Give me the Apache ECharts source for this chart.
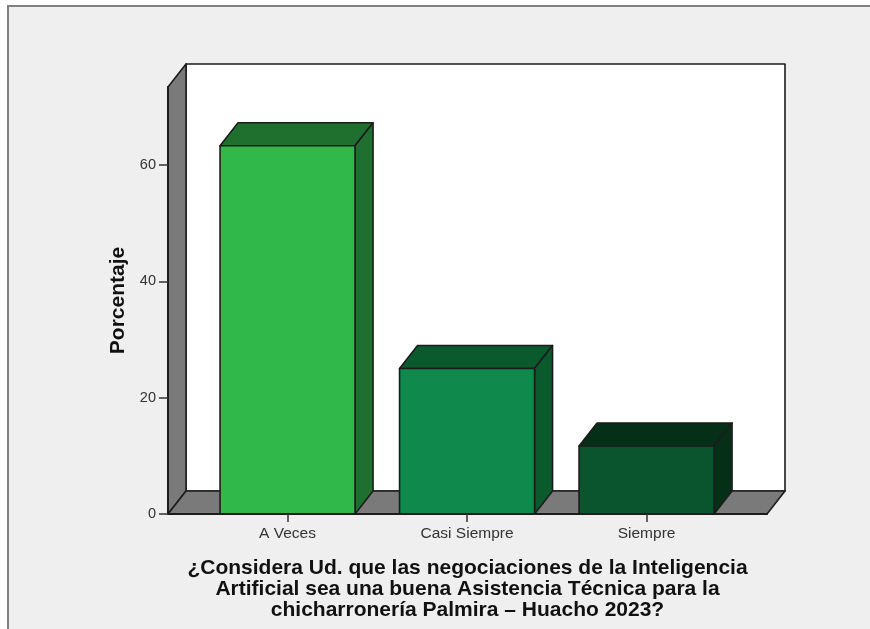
<!DOCTYPE html>
<html>
<head>
<meta charset="utf-8">
<script src="https://cdn.jsdelivr.net/npm/echarts@6/dist/echarts.min.js"></script>
<style>
html, body { margin: 0; padding: 0; background: #fff; }
#main { width: 870px; height: 629px; }
</style>
</head>
<body>
<div id="main"></div>
<script>
var categories = ['A Veces', 'Casi Siempre', 'Siempre'];
var percents = [63.3, 25.0, 11.7];
var yTicks = [0, 20, 40, 60];
var xTitle = '¿Considera Ud. que las negociaciones de la Inteligencia\nArtificial sea una buena Asistencia Técnica para la\nchicharronería Palmira – Huacho 2023?';
var yTitle = 'Porcentaje';

// cara frontal / cara lateral de cada barra
var frontColors = ['#30b84b', '#0f8a4c', '#0a552d'];
var sideColors = ['#1f702e', '#0a5a2e', '#052f17'];

var xMin = -0.666, xMax = 2.671, yMax = 73.4;
var barSize = 0.752;
var depthX = 18, depthY = 23; // profundidad del efecto 3D
var lineColor = '#1c1c1c';

function face(points, fill) {
    return {
        type: 'polygon',
        shape: { points: points },
        style: { fill: fill, stroke: lineColor, lineWidth: 1.6, lineJoin: 'round' }
    };
}

function back(p) {
    return [p[0] + depthX, p[1] - depthY];
}

// paredes y piso
function renderFrame(params, api) {
    var a = api.coord([xMin, 0]);
    var b = api.coord([xMax, 0]);
    var c = api.coord([xMin, yMax]);
    var d = api.coord([xMax, yMax]);
    return {
        type: 'group',
        children: [
            face([back(a), back(b), back(d), back(c)], '#ffffff'),
            face([a, back(a), back(c), c], '#7a7a7a'),
            face([a, b, back(b), back(a)], '#7a7a7a')
        ]
    };
}

function renderBar(params, api) {
    var i = api.value(0);
    var half = barSize / 2;
    var bl = api.coord([i - half, 0]);
    var br = api.coord([i + half, 0]);
    var tl = api.coord([i - half, api.value(1)]);
    var tr = api.coord([i + half, api.value(1)]);
    return {
        type: 'group',
        children: [
            face([tl, tr, back(tr), back(tl)], sideColors[i]),
            face([br, back(br), back(tr), tr], sideColors[i]),
            face([bl, br, tr, tl], frontColors[i])
        ]
    };
}

var chart = echarts.init(document.getElementById('main'));
chart.setOption({
    animation: false,
    backgroundColor: '#ffffff',
    textStyle: { fontFamily: '"Liberation Sans", Arial, sans-serif' },
    graphic: [{
        type: 'rect',
        z: -10,
        shape: { x: 8, y: 6, width: 900, height: 660 },
        style: { fill: '#efefef', stroke: '#808080', lineWidth: 2 }
    }],
    grid: { left: 168, right: 103, top: 87, bottom: 115 },
    xAxis: {
        type: 'value',
        min: xMin,
        max: xMax,
        z: 5,
        splitLine: { show: false },
        axisLine: { show: true, lineStyle: { color: lineColor, width: 2 } },
        axisTick: { show: true, length: 8, customValues: [0, 1, 2], lineStyle: { color: '#333', width: 1.5 } },
        axisLabel: {
            customValues: [0, 1, 2],
            margin: 12,
            color: '#333',
            fontSize: 15.5,
            formatter: function (v) { return categories[v]; }
        },
        name: xTitle,
        nameLocation: 'middle',
        nameGap: 44,
        nameTextStyle: { fontSize: 21, fontWeight: 'bold', color: '#111', lineHeight: 21, verticalAlign: 'top' }
    },
    yAxis: {
        type: 'value',
        min: 0,
        max: yMax,
        z: 5,
        splitLine: { show: false },
        axisLine: { show: true, onZero: false, lineStyle: { color: lineColor, width: 2 } },
        axisTick: { show: true, length: 9, customValues: yTicks, lineStyle: { color: '#333', width: 1.5 } },
        axisLabel: { customValues: yTicks, margin: 12, color: '#333', fontSize: 14.5, padding: [2, 0, 0, 0] },
        name: yTitle,
        nameLocation: 'middle',
        nameGap: 38,
        nameTextStyle: { fontSize: 21, fontWeight: 'bold', color: '#111' }
    },
    series: [
        {
            type: 'custom',
            z: 1,
            silent: true,
            clip: false,
            renderItem: renderFrame,
            data: [[0, 0]]
        },
        {
            type: 'custom',
            z: 2,
            clip: false,
            renderItem: renderBar,
            encode: { x: 0, y: 1 },
            data: percents.map(function (v, i) { return [i, v]; })
        }
    ]
});
</script>
</body>
</html>
